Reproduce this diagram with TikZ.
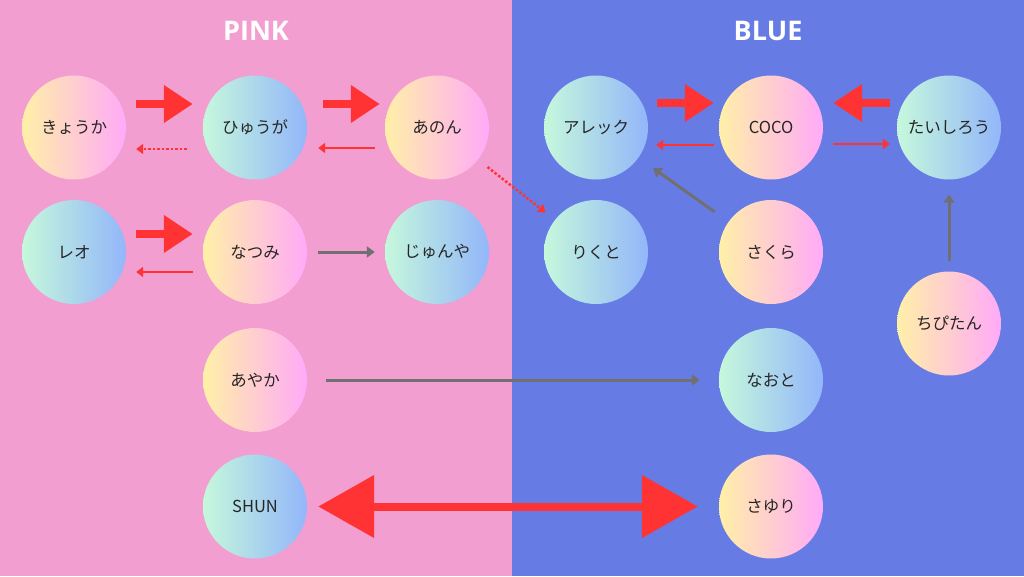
\documentclass[tikz,border=0pt]{standalone}
\usepackage{fontspec}
\setmainfont{Noto Sans CJK JP}
\newfontfamily\titlefont{Open Sans}
\usetikzlibrary{arrows.meta}
\definecolor{pinkbg}{RGB}{242,158,208}
\definecolor{bluebg}{RGB}{102,124,228}
\definecolor{warmL}{RGB}{255,240,168}
\definecolor{warmR}{RGB}{255,170,248}
\definecolor{coolL}{RGB}{198,248,220}
\definecolor{coolR}{RGB}{146,182,250}
\definecolor{arrowred}{RGB}{255,51,51}
\definecolor{arrowgray}{RGB}{112,112,112}
\begin{document}
\begin{tikzpicture}[x=1pt,y=-1pt,line join=round,font=\fontsize{16.5}{19}\selectfont,
	friend/.style={circle,minimum size=104pt,inner sep=0pt,text=black!85},
	warm/.style={friend,left color=warmL,right color=warmR},
	cool/.style={friend,left color=coolL,right color=coolR},
	bigarrow/.style={draw=arrowred,line width=8pt,-{Triangle[length=29pt,width=36pt]}},
	thinarrow/.style={draw=arrowred,line width=2.5pt,-{Triangle[length=7pt,width=10pt]}},
	dotarrow/.style={thinarrow,dash pattern=on 2.5pt off 2pt},
	grayarrow/.style={draw=arrowgray,line width=3pt,-{Triangle[length=8pt,width=11pt]}},
	title/.style={text=white,font=\titlefont\bfseries\fontsize{27}{30}\selectfont}]
	\def\xmid{512} \def\xmax{1024} \def\ymax{576}
	% two teams
	\fill[pinkbg] (0,0) rectangle (\xmid,\ymax);
	\fill[bluebg] (\xmid,0) rectangle (\xmax,\ymax);
	\node[title] (pink) at (256,31) {PINK};
	\node[title] (blue) at (768,31) {BLUE};
	% pink side
	\node[warm] (kyouka) at (74,127.5) {きょうか};
	\node[cool] (hyuuga) at (255,127.5) {ひゅうが};
	\node[warm] (anon) at (437,127.5) {あのん};
	\node[cool] (reo) at (74,252) {レオ};
	\node[warm] (natsumi) at (255,252) {なつみ};
	\node[cool] (junya) at (437,252) {じゅんや};
	\node[warm] (ayaka) at (255,380) {あやか};
	\node[cool] (shun) at (255,506.5) {SHUN};
	% blue side
	\node[cool] (alec) at (596,127.5) {アレック};
	\node[warm] (coco) at (771,127.5) {COCO};
	\node[cool] (taishirou) at (949,127.5) {たいしろう};
	\node[cool] (rikuto) at (596,252) {りくと};
	\node[warm] (sakura) at (771,252) {さくら};
	\node[warm] (chipitan) at (949,323.5) {ちぴたん};
	\node[cool] (naoto) at (771,380) {なおと};
	\node[warm] (sayuri) at (771,506.5) {さゆり};
	% arrows
	\draw[bigarrow,shorten <=10pt,shorten >=10pt] ([yshift=23.5pt]kyouka.east) -- ([yshift=23.5pt]hyuuga.west);
	\draw[dotarrow,shorten <=16pt,shorten >=10pt] ([yshift=-21.5pt]hyuuga.west) -- ([yshift=-21.5pt]kyouka.east);
	\draw[bigarrow,shorten <=16pt,shorten >=5pt] ([yshift=23.5pt]hyuuga.east) -- ([yshift=23.5pt]anon.west);
	\draw[thinarrow,shorten <=10pt,shorten >=11pt] ([yshift=-20.5pt]anon.west) -- ([yshift=-20.5pt]hyuuga.east);
	\draw[dotarrow,shorten <=12pt,shorten >=12pt] (anon) -- (rikuto);
	\draw[bigarrow,shorten <=10pt,shorten >=10pt] ([yshift=18pt]reo.east) -- ([yshift=18pt]natsumi.west);
	\draw[thinarrow,shorten <=10pt,shorten >=10pt] ([yshift=-20pt]natsumi.west) -- ([yshift=-20pt]reo.east);
	\draw[grayarrow,shorten <=11pt,shorten >=10pt] (natsumi) -- (junya);
	\draw[bigarrow,shorten <=9pt,shorten >=5pt] ([yshift=24.5pt]alec.east) -- ([yshift=24.5pt]coco.west);
	\draw[bigarrow,shorten <=7pt,shorten >=10pt] ([yshift=24.5pt]taishirou.west) -- ([yshift=24.5pt]coco.east);
	\draw[thinarrow,shorten <=5pt,shorten >=8pt] ([yshift=-17.5pt]coco.west) -- ([yshift=-17.5pt]alec.east);
	\draw[thinarrow,shorten <=10pt,shorten >=7pt] ([yshift=-16.5pt]coco.east) -- ([yshift=-16.5pt]taishirou.west);
	\draw[grayarrow,shorten <=17pt,shorten >=18pt] (sakura) -- (alec);
	\draw[grayarrow,shorten <=10pt,shorten >=15pt] (chipitan) -- (taishirou);
	\draw[grayarrow,shorten <=19pt,shorten >=19pt] (ayaka) -- (naoto);
	\draw[draw=arrowred,line width=8pt,{Triangle[length=56pt,width=61pt]}-{Triangle[length=56pt,width=61pt]},shorten <=11pt,shorten >=21pt] (shun) -- (sayuri);
\end{tikzpicture}
\end{document}
